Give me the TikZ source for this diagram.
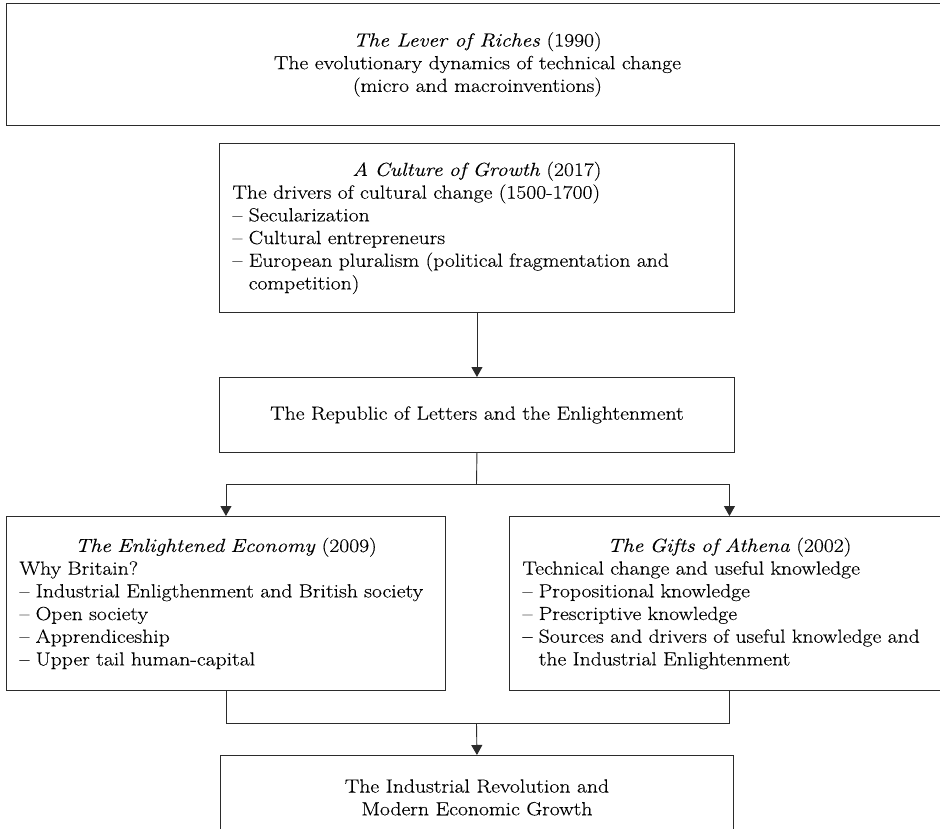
\documentclass[tikz,border=0pt]{standalone}
\usepackage{fontspec}
\setmainfont{Latin Modern Roman}[FakeStretch=1.14, FakeBold=0.25]
\usetikzlibrary{arrows.meta}
\definecolor{ink}{HTML}{2B2B2B}
\begin{document}
\begin{tikzpicture}[x=1pt,y=-1pt,
  box/.style={draw=ink, line width=0.9pt, rectangle, anchor=north west,
    inner xsep=13pt, inner ysep=0pt, text=black,
    font=\fontsize{19}{22.7}\selectfont},
  link/.style={draw=ink, line width=0.9pt},
  arr/.style={link, -{Triangle[length=10pt,width=11pt]}}]
\useasboundingbox[fill=white] (0,0) rectangle (940,828);

\node[box, minimum width=942pt, minimum height=122pt, align=center] (lever) at (6,3)
  {\textit{The Lever of Riches} (1990)\\The evolutionary dynamics of technical change\\(micro and macroinventions)};

\node[box, minimum width=515pt, minimum height=169pt, text width=489pt, align=left] (culture) at (219,143)
  {\makebox[\linewidth]{\textit{A Culture of Growth} (2017)}\\
   The drivers of cultural change (1500-1700)\\
   -- Secularization\\
   -- Cultural entrepreneurs\\
   -- European pluralism (political fragmentation and\\
   \phantom{-- }competition)};

\node[box, minimum width=515pt, minimum height=75pt, align=center] (republic) at (219,377)
  {The Republic of Letters and the Enlightenment};

\node[box, minimum width=439pt, minimum height=174pt, text width=413pt, align=left] (economy) at (6,516)
  {\makebox[\linewidth]{\textit{The Enlightened Economy} (2009)}\\
   Why Britain?\\
   -- Industrial Enligthenment and British society\\
   -- Open society\\
   -- Apprendiceship\\
   -- Upper tail human-capital};

\node[box, minimum width=440pt, minimum height=174pt, text width=414pt, align=left] (athena) at (509,516)
  {\makebox[\linewidth]{\textit{The Gifts of Athena} (2002)}\\
   Technical change and useful knowledge\\
   -- Propositional knowledge\\
   -- Prescriptive knowledge\\
   -- Sources and drivers of useful knowledge and\\
   \phantom{-- }the Industrial Enlightenment};

\node[box, minimum width=513pt, minimum height=84pt, align=center] (revolution) at (220,755)
  {The Industrial Revolution and\\Modern Economic Growth};

\coordinate (split) at (476.5,484);
\coordinate (join) at (476.5,723);

\draw[arr] (culture.south) -- (republic.north);
\draw[link] (republic.south) -- (split);
\draw[arr] (split) -| (economy.north);
\draw[arr] (split) -| (athena.north);
\draw[link] (economy.south) |- (join) -| (athena.south);
\draw[arr] (join) -- (revolution.north);
\end{tikzpicture}
\end{document}
